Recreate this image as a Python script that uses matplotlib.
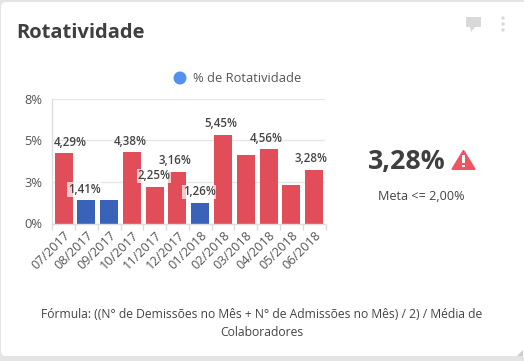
import matplotlib
matplotlib.use('Agg')
import matplotlib.pyplot as plt
from matplotlib.patches import FancyBboxPatch, Polygon, Circle, Rectangle

plt.rcParams['font.family'] = ['Open Sans', 'DejaVu Sans']

W, H = 524, 361

# Data
months = ['07/2017', '08/2017', '09/2017', '10/2017', '11/2017', '12/2017',
          '01/2018', '02/2018', '03/2018', '04/2018', '05/2018', '06/2018']
values = [4.29, 1.41, 1.41, 4.38, 2.25, 3.16, 1.26, 5.45, 4.22, 4.56, 2.39, 3.28]
labels = ['4,29%', '1,41%', None, '4,38%', '2,25%', '3,16%',
          '1,26%', '5,45%', None, '4,56%', None, '3,28%']
label_dx = [7, -2, 0, -2, -1, -2, -1, -2, 0, -2, 0, -3]
tick_values = [0, 2.543, 5.087, 7.63]
tick_labels = ['0%', '3%', '5%', '8%']
goal = 2.0

RED = '#e24d5a'
BLUE = '#3a62b8'
GRID = '#e6e6e6'
TEXT = '#444444'

fig = plt.figure(figsize=(W / 100, H / 100), dpi=100, facecolor='#e4e4e4')

# Card and decorations, drawn in pixel coordinates
bg = fig.add_axes([0, 0, 1, 1])
bg.set_xlim(0, W)
bg.set_ylim(H, 0)
bg.axis('off')
bg.add_patch(FancyBboxPatch((6, 7), 530, 344, boxstyle='round,pad=5,rounding_size=5',
                            fc='white', ec='none'))
bg.add_patch(Polygon([[523, 350], [523, 356], [517, 356]], fc='#cccccc', ec='none'))
bg.text(16, 32.5, 'Rotatividade', fontsize=14.5, fontweight='bold', color='#3f3f3f',
        va='center', ha='left')

# comment icon and menu dots
bg.add_patch(Rectangle((466, 17), 15, 10, fc='#d9d9d9', ec='none'))
bg.add_patch(Polygon([[470, 27], [475, 27], [471, 32]], fc='#d9d9d9', ec='none'))
for y in [18, 24, 30]:
    bg.add_patch(Circle((503, y), 1.7, fc='#d9d9d9', ec='none'))

# legend
bg.add_patch(Circle((180, 78), 6.5, fc='#5591ec', ec='none'))
bg.text(193, 79, '% de Rotatividade', fontsize=9.3, color='#555555', va='center', ha='left')

# KPI
bg.text(407, 162.5, '3,28%', fontsize=19.3, fontweight='bold', color='#3f3f3f',
        va='center', ha='center')
bg.add_patch(Polygon([[463.5, 151], [474.5, 169], [452.5, 169]], fc='#ef5560', ec='#ef5560',
                     lw=1.5, joinstyle='round'))
bg.add_patch(Rectangle((462.2, 155), 2.8, 8, fc='white', ec='none'))
bg.add_patch(Rectangle((462.2, 164.5), 2.8, 2.8, fc='white', ec='none'))
bg.text(421.5, 196.5, 'Meta <= ' + f'{goal:.2f}'.replace('.', ',') + '%', fontsize=9.1,
        color=TEXT, va='center', ha='center')

# Formula
bg.text(261.5, 315, 'Fórmula: ((N° de Demissões no Mês + N° de Admissões no Mês) / 2) / Média de',
        fontsize=8.7, color=TEXT, va='center', ha='center')
bg.text(261.5, 332.5, 'Colaboradores', fontsize=8.7, color=TEXT, va='center', ha='center')

# Chart
ax = fig.add_axes([52.2 / W, 1 - 223.5 / H, (325.5 - 52.2) / W, (223.5 - 99) / H])
ax.patch.set_alpha(0)
x = list(range(len(months)))
colors = [RED if v > goal else BLUE for v in values]
ax.bar(x, values, width=0.79, color=colors, zorder=2)
ax.set_xlim(-0.5, len(months) - 0.5)
ax.set_ylim(0, 7.63)

ax.set_yticks(tick_values)
ax.set_yticklabels(tick_labels, fontsize=9.3, color='#555555')
ax.tick_params(axis='y', length=0, pad=7)
ax.grid(axis='y', color=GRID, lw=1, zorder=1)
ax.set_axisbelow(True)

# ticks sit on the band edges, labels on the band centres
ax.set_xticks([i - 0.5 for i in range(len(months) + 1)])
ax.set_xticklabels([])
ax.tick_params(axis='x', which='major', length=4, width=1, color='#dddddd')
ax.set_xticks(x, minor=True)
ax.set_xticklabels(months, minor=True, fontsize=9.1, color='#555555', rotation=45,
                   ha='right', rotation_mode='anchor')
ax.tick_params(axis='x', which='minor', length=0, pad=4)

for s in ['top', 'right']:
    ax.spines[s].set_visible(False)
for s in ['left', 'bottom']:
    ax.spines[s].set_color('#dddddd')
    ax.spines[s].set_linewidth(1)

for i, (v, lab, dx) in enumerate(zip(values, labels, label_dx)):
    if lab is None:
        continue
    over_bar = lab in ('1,41%', '2,25%', '1,26%')
    box = dict(boxstyle='square,pad=0.05', fc='white', ec='none', alpha=0.7) if over_bar else None
    ax.annotate(lab, (i, v), xytext=(dx * 0.72, 11 * 0.72), textcoords='offset points',
                ha='center', va='center', fontsize=8.3, fontweight='semibold', color=TEXT,
                zorder=5, bbox=box, annotation_clip=False)

fig.savefig('out.png', dpi=100, facecolor=fig.get_facecolor())
